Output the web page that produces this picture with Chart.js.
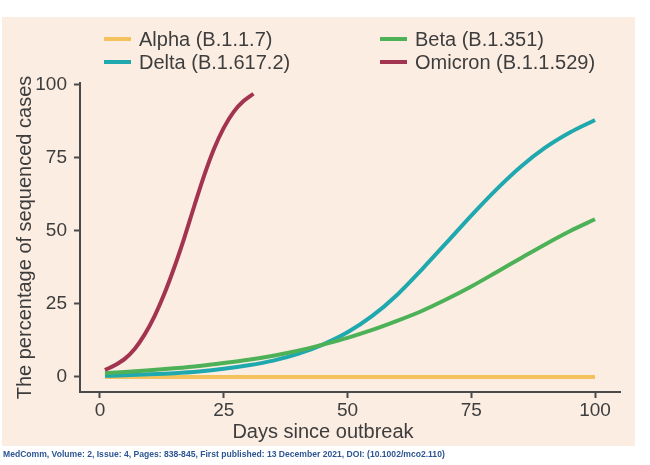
<!DOCTYPE html>
<html>
<head>
<meta charset="utf-8">
<script src="https://cdn.jsdelivr.net/npm/chart.js@4.4.0/dist/chart.umd.min.js"></script>
<style>
  body { margin: 0; width: 650px; height: 465px; background: #fff; position: relative; overflow: hidden;
         font-family: "Liberation Sans", Arial, sans-serif; }
  #panel { position: absolute; left: 2px; top: 17px; width: 633px; height: 429px; background: #fcede3; }
  #wrap { position: absolute; left: 0; top: 0; width: 650px; height: 465px; }
  .item { position: absolute; height: 24px; line-height: 24px; font-size: 20px; color: #3d3d3d; white-space: nowrap; }
  .item .sw { position: absolute; left: 0; top: 10px; width: 27px; height: 4px; }
  .item .lb { position: absolute; left: 35px; top: 0; }
  #xtitle { position: absolute; left: 0; width: 646px; top: 419px; height: 24px; line-height: 24px;
            font-size: 20px; color: #3d3d3d; text-align: center; }
  #foot { position: absolute; left: 3px; top: 449px; font-size: 8.5px; font-weight: bold; color: #2d5592;
          white-space: nowrap; transform-origin: 0 0; }
</style>
</head>
<body>
<div id="panel"></div>
<div id="wrap"><canvas id="chart" width="650" height="465"></canvas></div>
<div id="legend"></div>
<div id="xtitle">Days since outbreak</div>
<div id="foot">MedComm, Volume: 2, Issue: 4, Pages: 838-845, First published: 13 December 2021, DOI: (10.1002/mco2.110)</div>
<script>
// values
const xTicks = [0, 25, 50, 75, 100];
const yTicks = [0, 25, 50, 75, 100];

const alphaDays = [1, 100];
const alphaValues = [0, 0];

const days = [1, 5, 10, 15, 20, 25, 30, 35, 40, 45, 50, 55, 60, 65, 70, 75, 80, 85, 90, 95, 100];
const betaValues = [1.3, 1.7, 2.3, 3, 3.8, 4.8, 5.9, 7.3, 9, 11.1, 13.4, 16.1, 19.2, 22.6, 26.6, 31, 35.8, 40.7, 45.5, 50, 54];
const deltaValues = [0.4, 0.6, 0.9, 1.3, 1.9, 2.8, 4, 5.6, 7.9, 11.1, 15.3, 20.9, 28.1, 36.8, 46, 55.3, 64.1, 72, 78.6, 83.8, 88];

const omicronDays = [1, 3, 5, 7, 9, 11, 13, 15, 17, 19, 21, 23, 25, 27, 29, 31];
const omicronValues = [2.4, 4, 6.2, 9.6, 14.5, 20.8, 28.5, 37.5, 47.5, 58.3, 68.8, 78, 85.3, 90.8, 94.5, 97];

const names = ["Alpha (B.1.1.7)", "Beta (B.1.351)", "Delta (B.1.617.2)", "Omicron (B.1.1.529)"];
const colors = ["#f4c25c", "#4db257", "#1fa8ae", "#a3344f"];

const toPts = (xs, ys) => xs.map((x, i) => ({ x: x, y: ys[i] }));

// legend (two columns)
const legendPos = [[104, 27], [380, 27], [104, 50], [380, 50]];
const $legend = document.getElementById("legend");
names.forEach((n, i) => {
  const el = document.createElement("div");
  el.className = "item";
  el.style.left = legendPos[i][0] + "px";
  el.style.top = legendPos[i][1] + "px";
  el.innerHTML = '<span class="sw" style="background:' + colors[i] + '"></span><span class="lb">' + n + "</span>";
  $legend.appendChild(el);
});

// squeeze the footer to the width it has in the figure
const $foot = document.getElementById("foot");
$foot.style.transform = "scaleX(" + (442 / $foot.offsetWidth) + ")";

Chart.defaults.font.family = '"Liberation Sans", Arial, sans-serif';
Chart.defaults.color = "#3d3d3d";

const axisColor = "#4a4a4a";

new Chart(document.getElementById("chart"), {
  type: "line",
  data: {
    datasets: [
      { label: names[0], data: toPts(alphaDays, alphaValues), borderColor: colors[0], order: 3 },
      { label: names[1], data: toPts(days, betaValues), borderColor: colors[1], order: 1 },
      { label: names[2], data: toPts(days, deltaValues), borderColor: colors[2], order: 2 },
      { label: names[3], data: toPts(omicronDays, omicronValues), borderColor: colors[3], order: 0 },
    ],
  },
  options: {
    responsive: false,
    animation: false,
    layout: { padding: { left: 0, top: 83, right: 30, bottom: 0 } },
    elements: {
      point: { radius: 0 },
      line: { borderWidth: 4, cubicInterpolationMode: "monotone", fill: false },
    },
    plugins: { legend: { display: false }, tooltip: { enabled: false } },
    scales: {
      x: {
        type: "linear",
        min: -4.04,
        max: 105.05,
        afterFit: (s) => { s.height = 73; },
        afterBuildTicks: (s) => { s.ticks = xTicks.map((v) => ({ value: v })); },
        grid: { drawOnChartArea: false, drawTicks: true, tickLength: 6, tickWidth: 2, tickColor: axisColor },
        border: { display: true, color: axisColor, width: 2 },
        ticks: { font: { size: 19 }, color: "#3d3d3d", padding: 1, maxRotation: 0 },
      },
      y: {
        type: "linear",
        min: -5.14,
        max: 100.68,
        afterFit: (s) => { s.width = 80; },
        afterBuildTicks: (s) => { s.ticks = yTicks.map((v) => ({ value: v })); },
        grid: { drawOnChartArea: false, drawTicks: true, tickLength: 6, tickWidth: 2, tickColor: axisColor },
        border: { display: true, color: axisColor, width: 2 },
        ticks: { font: { size: 19 }, color: "#3d3d3d", padding: 7 },
        title: {
          display: true,
          text: "The percentage of sequenced cases",
          font: { size: 20 },
          color: "#3d3d3d",
          padding: { top: 13, bottom: 0 },
        },
      },
    },
  },
});
</script>
</body>
</html>
